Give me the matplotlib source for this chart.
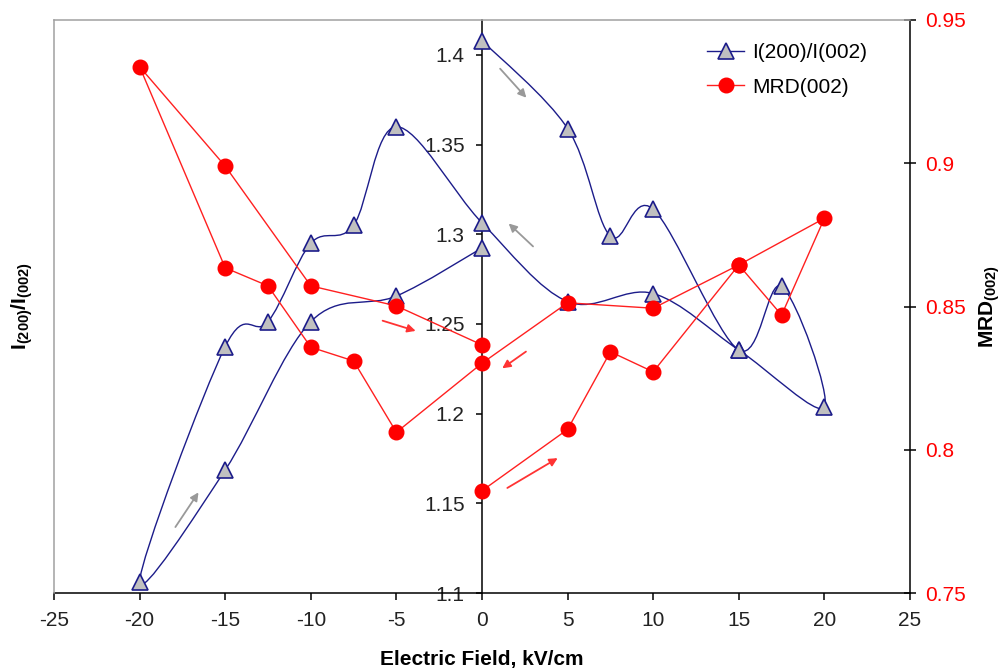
import numpy as np
import matplotlib
matplotlib.use("Agg")
import matplotlib.pyplot as plt
from matplotlib.path import Path
from matplotlib.patches import PathPatch
from matplotlib.lines import Line2D

# === CONFIG ===
plt.rcParams['font.family'] = ['Liberation Sans', 'DejaVu Sans']
plt.rcParams['mathtext.fontset'] = 'custom'
plt.rcParams['mathtext.rm'] = 'Liberation Sans'
plt.rcParams['mathtext.bf'] = 'Liberation Sans:bold'
FS = 15

field = [0, 5, 7.5, 10, 15, 17.5, 20, 15, 10, 5, 0,
         -5, -7.5, -10, -12.5, -15, -20, -15, -10, -5, 0]
ratio = [1.408, 1.359, 1.299, 1.314, 1.2355, 1.271, 1.2036, 1.2355, 1.267, 1.2625, 1.3064,
         1.360, 1.305, 1.295, 1.2513, 1.2374, 1.1063, 1.1686, 1.2513, 1.2656, 1.2924]
mrd = [0.7857, 0.8071, 0.8342, 0.8272, 0.8645, 0.8470, 0.8808, 0.8645, 0.8494, 0.8513, 0.8302,
       0.8061, 0.8310, 0.8358, 0.8572, 0.8635, 0.9337, 0.8990, 0.8572, 0.8502, 0.8366]

xticks = [-25, -20, -15, -10, -5, 0, 5, 10, 15, 20, 25]
left_ticks = [1.1, 1.15, 1.2, 1.25, 1.3, 1.35, 1.4]
right_ticks = [0.75, 0.8, 0.85, 0.9, 0.95]

# direction arrows (start, end) in field / ratio units
gray_arrows = [((0.95, 1.3935), (2.7, 1.375)),
               ((3.1, 1.2922), (1.44, 1.3071)),
               ((-18.0, 1.1355), (-16.47, 1.1574))]
red_arrows = [((-5.96, 1.2523), (-3.72, 1.2457)),
              ((2.7, 1.2355), (1.05, 1.2244)),
              ((1.34, 1.1578), (4.56, 1.176))]

BLUE = '#1c1c8a'
RED = '#ff2020'


def smooth_path(xs, ys):
    # cubic Bezier through the points (Catmull-Rom style, like a spreadsheet "smoothed line")
    pts = np.column_stack([xs, ys]).astype(float)
    n = len(pts)
    verts = [pts[0]]
    codes = [Path.MOVETO]
    for i in range(n - 1):
        p0 = pts[i - 1] if i > 0 else pts[i]
        p1, p2 = pts[i], pts[i + 1]
        p3 = pts[i + 2] if i + 2 < n else pts[i + 1]
        verts += [p1 + (p2 - p0) / 6, p2 - (p3 - p1) / 6, p2]
        codes += [Path.CURVE4] * 3
    return Path(verts, codes)


# === PLOT ===
fig = plt.figure(figsize=(10, 6.71), dpi=100)
ax = fig.add_axes([0.054, 0.1162, 0.856, 0.854])
ax2 = ax.twinx()

ax.add_patch(PathPatch(smooth_path(field, ratio), fill=False, edgecolor=BLUE, lw=1.0, zorder=2))
ax.plot(field, ratio, linestyle='none', marker='^', ms=11.5, mfc='#c0c0c0', mec=BLUE, mew=1.2, zorder=3)

ax2.plot(field, mrd, color=RED, lw=1.0, marker='o', ms=10.5, mfc='#ff0000', mec='#ff0000', zorder=3)

for (s, e) in gray_arrows:
    ax.annotate('', xy=e, xytext=s,
                arrowprops=dict(arrowstyle='-|>', color='#999999', lw=1.3, mutation_scale=12))
for (s, e) in red_arrows:
    ax.annotate('', xy=e, xytext=s,
                arrowprops=dict(arrowstyle='-|>', color='#ff3333', lw=1.3, mutation_scale=12))

ax.set_xlim(-25, 25)
ax.set_ylim(1.1, 1.4195)
ax2.set_ylim(0.75, 0.95)

ax.set_xticks(xticks)
ax.set_xticklabels(['%g' % v for v in xticks])
ax.set_yticks(left_ticks)
ax.set_yticklabels(['%g' % v for v in left_ticks])
ax2.set_yticks(right_ticks)
ax2.set_yticklabels(['%g' % v for v in right_ticks])

# spines: left-axis line sits at x = 0, grey frame on top/left
ax.spines['left'].set_position(('data', 0))
ax.spines['left'].set_color('black')
ax.spines['bottom'].set_color('black')
ax.spines['top'].set_visible(False)
ax.spines['right'].set_visible(False)
ax2.spines['left'].set_color('#a0a0a0')
ax2.spines['top'].set_color('#a0a0a0')
ax2.spines['bottom'].set_visible(False)
ax2.spines['right'].set_color('black')
for a in (ax, ax2):
    for sp in a.spines.values():
        sp.set_linewidth(1.1)

ax.tick_params(axis='x', direction='out', length=5, width=1.1, pad=8, labelsize=FS, labelcolor='#222222')
ax.tick_params(axis='y', direction='out', length=4.5, width=1.1, pad=8, labelsize=FS, labelcolor='#222222')
ax2.tick_params(axis='y', direction='inout', length=8.5, width=1.1, pad=7, labelsize=FS, labelcolor='#ff0000')

ax.set_xlabel('Electric Field, kV/cm', fontsize=FS, fontweight='bold', labelpad=14)
ax.set_ylabel(r'$\mathbf{I}_{\mathbf{(200)}}\mathbf{/I}_{\mathbf{(002)}}$', fontsize=FS)
ax.yaxis.set_label_coords(-0.022, 0.5)
ax2.set_ylabel(r'$\mathbf{MRD}_{\mathbf{(002)}}$', fontsize=FS)
ax2.yaxis.set_label_coords(1.078, 0.5)

handles = [Line2D([], [], color=BLUE, lw=1.0, marker='^', ms=11.5, mfc='#c0c0c0', mec=BLUE, mew=1.2),
           Line2D([], [], color=RED, lw=1.0, marker='o', ms=10.5, mfc='#ff0000', mec='#ff0000')]
ax2.legend(handles, ['I(200)/I(002)', 'MRD(002)'], loc='upper left',
           bbox_to_anchor=(0.688, 0.964), bbox_transform=fig.transFigure,
           frameon=False, fontsize=FS, handlelength=1.8, handletextpad=0.4, labelspacing=0.75)

fig.savefig('out.png', dpi=100)
